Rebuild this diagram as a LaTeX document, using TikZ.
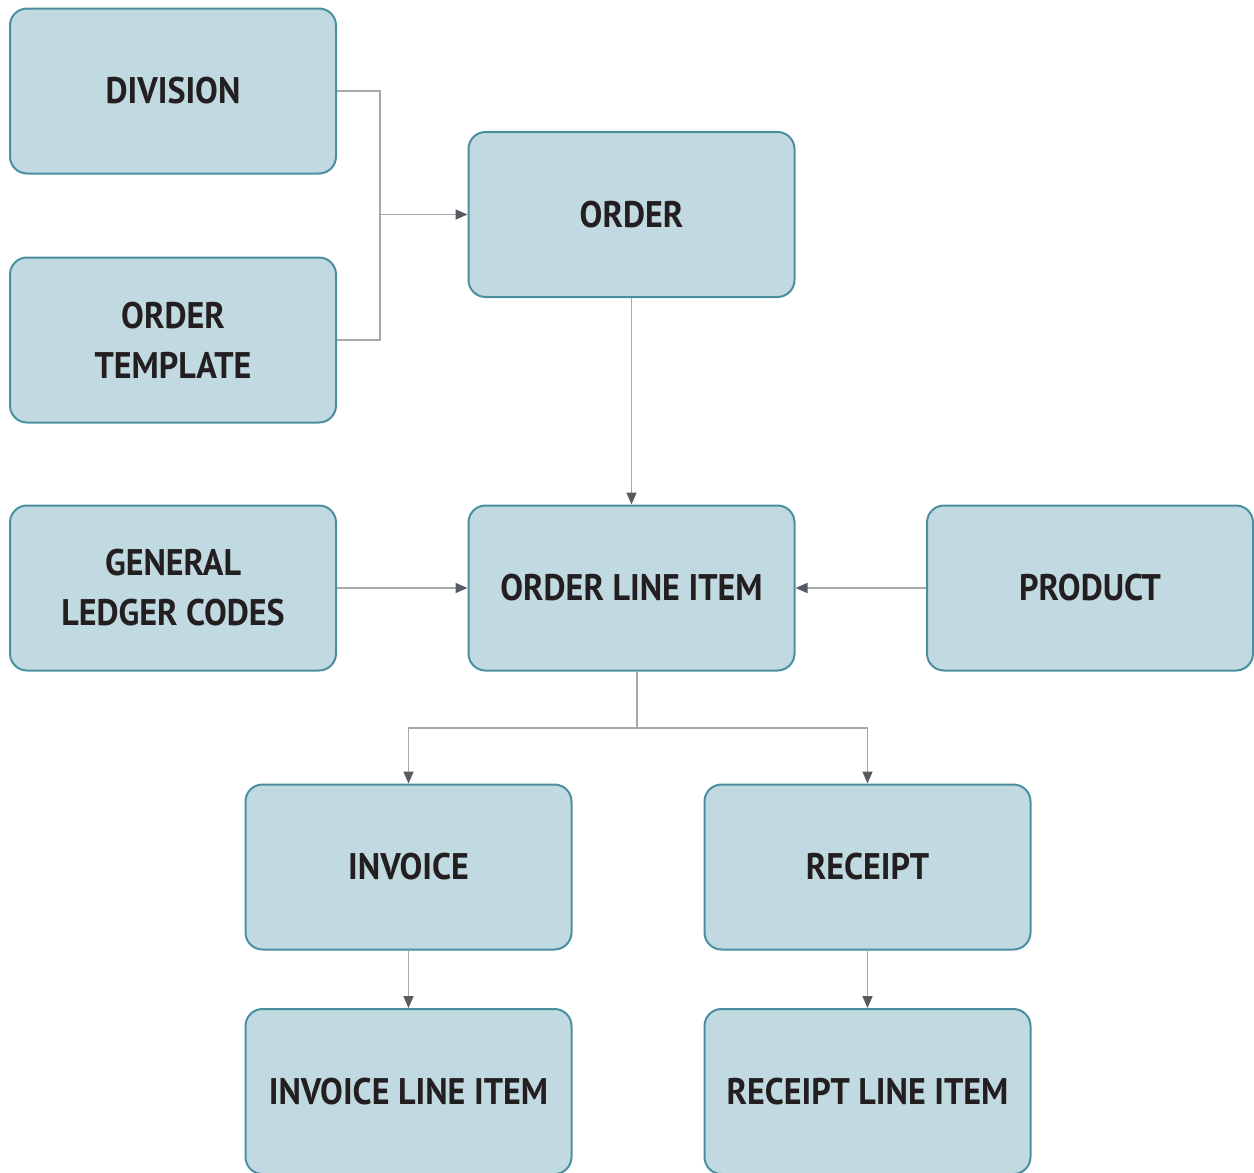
\documentclass[tikz,border=0pt]{standalone}
\usepackage{fontspec}
\setmainfont{PT Sans}[FakeStretch=0.92]
\usetikzlibrary{arrows.meta}
\definecolor{boxfill}{HTML}{C1D9E0}
\definecolor{boxdraw}{HTML}{4A8FA0}
\definecolor{linegray}{HTML}{A8A8A8}
\definecolor{tipgray}{HTML}{555B60}
\definecolor{txt}{HTML}{231F20}
\begin{document}
\begin{tikzpicture}[x=1pt,y=-1pt,
  entity/.style={draw=boxdraw, fill=boxfill, line width=2pt, rounded corners=17pt,
    minimum width=326pt, minimum height=165pt, inner sep=0pt, align=center,
    text=txt, font=\fontsize{37}{50}\selectfont\bfseries},
  conn/.style={draw=linegray, line width=1.6pt},
  arr/.style={conn, -{Triangle[length=12pt,width=10pt,fill=tipgray,color=tipgray]}}]
\useasboundingbox (0,0) rectangle (1254,1173);
\node[entity] (div) at (173,91) {DIVISION};
\node[entity] (tmpl) at (173,340) {ORDER\\TEMPLATE};
\node[entity] (order) at (631.5,214.5) {ORDER};
\node[entity] (glc) at (173,588) {GENERAL\\LEDGER CODES};
\node[entity] (oli) at (631.5,588) {ORDER LINE ITEM};
\node[entity] (prod) at (1090,588) {PRODUCT};
\node[entity] (inv) at (408.5,867) {INVOICE};
\node[entity] (rec) at (867.5,867) {RECEIPT};
\node[entity] (ili) at (408.5,1091.5) {INVOICE LINE ITEM};
\node[entity] (rli) at (867.5,1091.5) {RECEIPT LINE ITEM};
\coordinate (j1) at (380,214.5);
\coordinate (j2) at (637,728);
\draw[conn] (div.east) -| (j1);
\draw[conn] (tmpl.east) -| (j1);
\draw[arr] (j1) -- (order.west);
\draw[arr] (order.south) -- (oli.north);
\draw[arr] (glc.east) -- (oli.west);
\draw[arr] (prod.west) -- (oli.east);
\draw[conn] (oli.south -| j2) -- (j2);
\draw[arr] (j2) -| (inv.north);
\draw[arr] (j2) -| (rec.north);
\draw[arr] (inv.south) -- (ili.north);
\draw[arr] (rec.south) -- (rli.north);
\end{tikzpicture}
\end{document}
